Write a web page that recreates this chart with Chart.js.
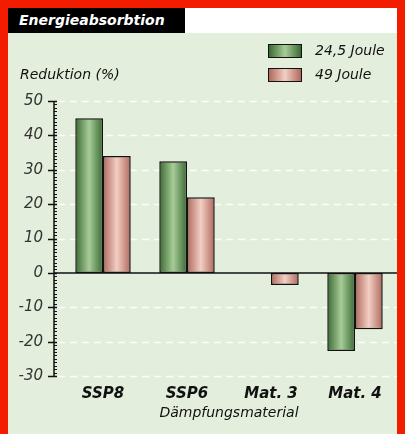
<!DOCTYPE html>
<html>
<head>
<meta charset="utf-8">
<script src="https://cdn.jsdelivr.net/npm/chart.js@4"></script>
<style>
  body { margin: 0; background: #f21c00; }
  #frame { position: relative; width: 405px; height: 434px; background: #f21c00; overflow: hidden; font-family: "DejaVu Sans", sans-serif; }
  #panel { position: absolute; left: 8px; top: 8px; width: 389px; height: 426px; background: #e3eedd; }
  #titlebar { position: absolute; left: 8px; top: 8px; width: 389px; height: 25px; background: #fff; }
  #tab { position: absolute; left: 0; top: 0; width: 177px; height: 25px; background: #000; color: #fff;
         font: italic bold 14px "DejaVu Sans", sans-serif; line-height: 25px; padding-left: 11px; box-sizing: border-box; }
  #ylabel { position: absolute; left: 20px; top: 66px; font: italic 14px "DejaVu Sans", sans-serif; color: #111; }
  .lg { position: absolute; left: 268px; width: 34px; height: 14px; border: 1px solid #111; box-sizing: border-box; }
  .lt { position: absolute; left: 315px; font: italic 14px "DejaVu Sans", sans-serif; color: #111; }
  #chartbox { position: absolute; left: 8px; top: 33px; width: 389px; height: 401px; }
</style>
</head>
<body>
<div id="frame">
  <div id="panel"></div>
  <div id="titlebar"><div id="tab">Energieabsorbtion</div></div>
  <div id="chartbox"><canvas id="energieChart"></canvas></div>
  <div id="ylabel">Reduktion (%)</div>
  <div class="lg" style="top:44px;background:linear-gradient(90deg,#3a6a32,#a8cc98 50%,#3a6a32)"></div>
  <div class="lt" style="top:42px">24,5 Joule</div>
  <div class="lg" style="top:68px;background:linear-gradient(90deg,#b0685c,#f2cfc4 50%,#b0685c)"></div>
  <div class="lt" style="top:66px">49 Joule</div>
</div>
<script>
const categories = ['SSP8', 'SSP6', 'Mat. 3', 'Mat. 4'];
const joule245 = [45, 32.5, 0, -22.7];
const joule49 = [34, 22, -3.5, -16.4];
const yTicks = [-30, -20, -10, 0, 10, 20, 30, 40, 50];

const catPct = 0.66;

// horizontal shading for each bar, placed from the x scale
function barGradient(edge, mid, side) {
  return function (context) {
    const chart = context.chart;
    const xs = chart.scales.x;
    if (!xs || context.dataIndex === undefined) return edge;
    const center = xs.getPixelForValue(context.dataIndex);
    const w = (xs.width / categories.length) * catPct / 2;
    if (!isFinite(center) || !isFinite(w) || w <= 0) return edge;
    const left = side === 0 ? center - w : center;
    const g = chart.ctx.createLinearGradient(left, 0, left + w, 0);
    g.addColorStop(0, edge);
    g.addColorStop(0.5, mid);
    g.addColorStop(1, edge);
    return g;
  };
}

// y axis line, ticks, dashed gridlines and the zero line
const axisPlugin = {
  id: 'axisPlugin',
  beforeDatasetsDraw(chart) {
    const { ctx, chartArea, scales } = chart;
    const y = scales.y;
    const ax = chartArea.left - 7;
    ctx.save();
    ctx.strokeStyle = 'rgba(255,255,255,0.9)';
    ctx.lineWidth = 1.5;
    ctx.setLineDash([7, 5]);
    yTicks.forEach(v => {
      if (v === 0) return;
      const py = Math.round(y.getPixelForValue(v)) + 0.5;
      ctx.beginPath();
      ctx.moveTo(ax + 4, py);
      ctx.lineTo(chartArea.right, py);
      ctx.stroke();
    });
    ctx.setLineDash([]);
    ctx.strokeStyle = '#111';
    ctx.lineWidth = 1.5;
    ctx.beginPath();
    ctx.moveTo(ax, y.getPixelForValue(yTicks[yTicks.length - 1]));
    ctx.lineTo(ax, y.getPixelForValue(yTicks[0]));
    ctx.stroke();
    for (let v = yTicks[0]; v <= yTicks[yTicks.length - 1]; v++) {
      const py = Math.round(y.getPixelForValue(v)) + 0.5;
      ctx.beginPath();
      if (v % 10 === 0) {
        ctx.lineWidth = 1.5;
        ctx.moveTo(ax - 6, py);
        ctx.lineTo(ax + 3, py);
      } else {
        ctx.lineWidth = 1;
        ctx.moveTo(ax, py);
        ctx.lineTo(ax + 3, py);
      }
      ctx.stroke();
    }
    ctx.restore();
  },
  afterDatasetsDraw(chart) {
    const { ctx, chartArea, scales } = chart;
    const py = scales.y.getPixelForValue(0);
    ctx.save();
    ctx.strokeStyle = '#111';
    ctx.lineWidth = 1.5;
    ctx.beginPath();
    ctx.moveTo(chartArea.left - 7, py);
    ctx.lineTo(chartArea.right, py);
    ctx.stroke();
    ctx.restore();
  }
};

new Chart(document.getElementById('energieChart'), {
  type: 'bar',
  data: {
    labels: categories,
    datasets: [
      {
        label: '24,5 Joule',
        data: joule245,
        backgroundColor: barGradient('#3a6a32', '#a8cc98', 0),
        borderColor: '#111',
        borderWidth: 1.5,
        borderSkipped: false
      },
      {
        label: '49 Joule',
        data: joule49,
        backgroundColor: barGradient('#b0685c', '#f2cfc4', 1),
        borderColor: '#111',
        borderWidth: 1.5,
        borderSkipped: false
      }
    ]
  },
  options: {
    responsive: true,
    maintainAspectRatio: false,
    animation: false,
    layout: { padding: { top: 68, right: 0, left: 0, bottom: 0 } },
    plugins: {
      legend: { display: false },
      tooltip: { enabled: false }
    },
    datasets: { bar: { barPercentage: 1, categoryPercentage: catPct } },
    scales: {
      x: {
        grid: { display: false, drawTicks: false },
        border: { display: false },
        ticks: { color: '#111', padding: 9, font: { family: 'DejaVu Sans', size: 15, style: 'italic', weight: 'bold' } },
        title: {
          display: true,
          text: 'Dämpfungsmaterial',
          color: '#111',
          padding: { top: 4, bottom: 12 },
          font: { family: 'DejaVu Sans', size: 14, style: 'italic' }
        },
        afterFit: s => { s.height = 58; }
      },
      y: {
        min: -30,
        max: 50,
        grid: { display: false, drawTicks: false },
        border: { display: false },
        ticks: {
          stepSize: 10,
          padding: 18,
          color: '#333',
          font: { family: 'DejaVu Sans', size: 15, style: 'italic' }
        },
        afterFit: s => { s.width = 53; }
      }
    }
  },
  plugins: [axisPlugin]
});
</script>
</body>
</html>
